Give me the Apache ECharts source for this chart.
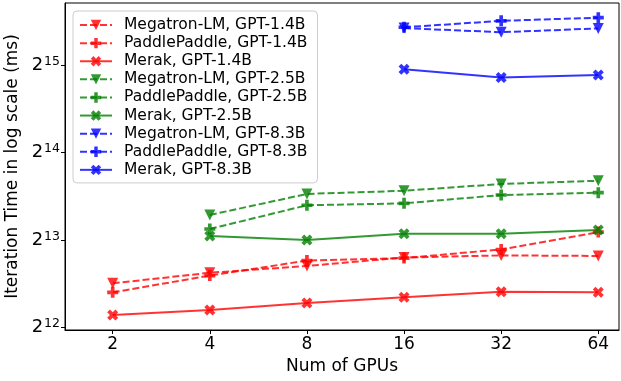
<!DOCTYPE html>
<html>
<head>
<meta charset="utf-8">
<script src="https://cdn.jsdelivr.net/npm/echarts@6/dist/echarts.min.js"></script>
<style>html,body{margin:0;padding:0;background:#fff}#c{width:621px;height:381px}</style>
</head>
<body>
<div id="c"></div>
<script>
const gpus = [2, 4, 8, 16, 32, 64];
const yTicks = [4096, 8192, 16384, 32768];
const megatron14 = [5810, 6320, 6670, 7130, 7250, 7220];
const paddle14 = [5410, 6180, 6960, 7100, 7600, 8720];
const merak14 = [4520, 4700, 4970, 5200, 5440, 5410];
const megatron25 = [null, 9990, 11800, 12100, 12770, 13100];
const paddle25 = [null, 8940, 10790, 10950, 11700, 11920];
const merak25 = [null, 8460, 8190, 8600, 8600, 8870];
const megatron83 = [null, null, null, 43900, 42500, 43800];
const paddle83 = [null, null, null, 44200, 46500, 47700];
const merak83 = [null, null, null, 31700, 29700, 30300];
const seriesNames = [
  'Megatron-LM, GPT-1.4B', 'PaddlePaddle, GPT-1.4B', 'Merak, GPT-1.4B',
  'Megatron-LM, GPT-2.5B', 'PaddlePaddle, GPT-2.5B', 'Merak, GPT-2.5B',
  'Megatron-LM, GPT-8.3B', 'PaddlePaddle, GPT-8.3B', 'Merak, GPT-8.3B'
];
const seriesValues = [megatron14, paddle14, merak14, megatron25, paddle25, merak25, megatron83, paddle83, merak83];

const RED = 'rgba(255,0,0,0.8)', GREEN = 'rgba(0,128,0,0.8)', BLUE = 'rgba(0,0,255,0.8)';
const colors = [RED, RED, RED, GREEN, GREEN, GREEN, BLUE, BLUE, BLUE];
const TRI = 'path://M0,0L10,0L5,10Z';
const PLUS = 'path://M4,0H8V4H12V8H8V12H4V8H0V4H4Z';
const XMARK = 'path://M0,3L3,0L6,3L9,0L12,3L9,6L12,9L9,12L6,9L3,12L0,9L3,6Z';
const symbols = [TRI, PLUS, XMARK, TRI, PLUS, XMARK, TRI, PLUS, XMARK];
const dashed = [true, true, false, true, true, false, true, true, false];
const FONT = 'DejaVu Sans';

const series = seriesNames.map((name, k) => ({
  name: name,
  type: 'line',
  data: gpus.map((g, i) => [g, seriesValues[k][i]]).filter(p => p[1] != null),
  symbol: symbols[k],
  symbolSize: 11,
  showAllSymbol: true,
  lineStyle: { color: colors[k], width: 2, type: dashed[k] ? [7, 3] : 'solid' },
  itemStyle: { color: colors[k], opacity: 1 },
  emphasis: { disabled: true },
  animation: false
}));

const chart = echarts.init(document.getElementById('c'), null, { renderer: 'canvas' });
chart.setOption({
  animation: false,
  backgroundColor: '#fff',
  grid: { left: 65, right: 2, top: 3, bottom: 51, show: true, borderColor: '#000', borderWidth: 1, containLabel: false, outerBoundsMode: 'none' },
  legend: {
    data: seriesNames,
    orient: 'vertical',
    left: 73, top: 11,
    itemWidth: 32, itemHeight: 13, itemGap: 0,
    padding: [5, 10, 4, 6],
    backgroundColor: 'rgba(255,255,255,0.8)',
    borderColor: '#cccccc', borderWidth: 1, borderRadius: 4,
    textStyle: { fontFamily: FONT, fontSize: 15.5, color: '#000', lineHeight: 18.1, padding: [0, 0, 0, 7] },
    selectedMode: false
  },
  xAxis: {
    type: 'log', logBase: 2, min: 1.423, max: 74.2,
    name: 'Num of GPUs', nameLocation: 'middle', nameGap: 23,
    nameTextStyle: { fontFamily: FONT, fontSize: 17, color: '#000' },
    axisLine: { show: true, lineStyle: { color: '#000', width: 1 } },
    axisTick: { show: true, inside: false, length: 4, customValues: gpus, lineStyle: { color: '#000' } },
    axisLabel: { customValues: gpus, fontFamily: FONT, fontSize: 17, color: '#000', margin: 6, formatter: v => String(Math.round(v)) },
    splitLine: { show: false }, minorTick: { show: false }
  },
  yAxis: {
    type: 'log', logBase: 2, min: 4015, max: 53570,
    name: 'Iteration Time in log scale (ms)', nameLocation: 'middle', nameGap: 37,
    nameTextStyle: { fontFamily: FONT, fontSize: 17, color: '#000' },
    axisLine: { show: true, lineStyle: { color: '#000', width: 1 } },
    axisTick: { show: true, inside: false, length: 4, customValues: yTicks, lineStyle: { color: '#000' } },
    axisLabel: {
      customValues: yTicks, margin: 5,
      formatter: v => '{a|2}{b|' + Math.round(Math.log2(v)) + '}',
      rich: {
        a: { fontFamily: FONT, fontSize: 18, color: '#000', lineHeight: 20 },
        b: { fontFamily: FONT, fontSize: 12.5, color: '#000', verticalAlign: 'top', lineHeight: 12, padding: [0, 0, 0, 1] }
      }
    },
    splitLine: { show: false }, minorTick: { show: false }
  },
  series: series
});
</script>
</body>
</html>
